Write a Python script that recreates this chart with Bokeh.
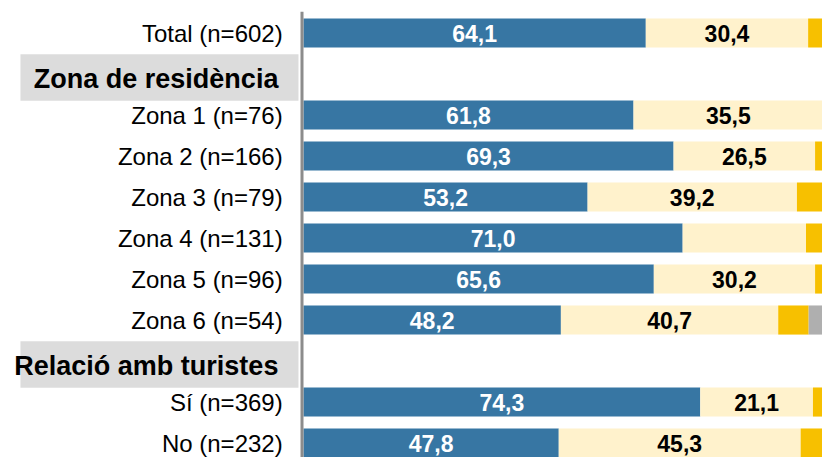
from bokeh.plotting import figure
from bokeh.models import ColumnDataSource, Range1d
from bokeh.core.properties import value
from bokeh.embed import file_html
from bokeh.resources import INLINE

# ---- data ----
categories = ["Total (n=602)", "Zona 1 (n=76)", "Zona 2 (n=166)", "Zona 3 (n=79)",
              "Zona 4 (n=131)", "Zona 5 (n=96)", "Zona 6 (n=54)", "Sí (n=369)", "No (n=232)"]
rows = [0, 2, 3, 4, 5, 6, 7, 9, 10]
headers = ["Zona de residència", "Relació amb turistes"]
header_rows = [1, 8]

s1 = [64.1, 61.8, 69.3, 53.2, 71.0, 65.6, 48.2, 74.3, 47.8]
s2 = [30.4, 35.5, 26.5, 39.2, 23.1, 30.2, 40.7, 21.1, 45.3]
s3 = [5.5, 2.7, 4.2, 7.6, 5.9, 4.2, 5.7, 4.6, 6.9]
s4 = [0.0, 0.0, 0.0, 0.0, 0.0, 0.0, 5.4, 0.0, 0.0]
s2_shown = [True, True, True, True, False, True, True, True, True]

colors = ["#3776A3", "#FFF2CC", "#F7C000", "#AFAFAF"]

FONT = "Liberation Sans"

def fmt(v):
    return f"{v:.1f}".replace(".", ",")

# ---- figure ----
W, H = 822, 457
p = figure(width=W, height=H, output_backend="svg", toolbar_location=None,
           x_range=Range1d(-56.74, 97.19), y_range=Range1d(10.353, -0.793),
           min_border=0, min_border_left=0, min_border_right=0,
           min_border_top=0, min_border_bottom=0)
p.xaxis.visible = False
p.yaxis.visible = False
p.grid.visible = False
p.outline_line_color = None
p.background_fill_color = "white"

# header boxes
hsrc = ColumnDataSource(dict(
    y=header_rows, text=headers,
    top=[r - 0.48 for r in header_rows], bottom=[r + 0.65 for r in header_rows],
    left=[-53.0] * len(header_rows), right=[-0.94] * len(header_rows),
    ty=[r + 0.11 for r in header_rows], tx=[-4.7] * len(header_rows)))
p.quad(left="left", right="right", top="top", bottom="bottom", source=hsrc,
       fill_color="#DCDCDC", line_color=None)
p.text(x="tx", y="ty", text="text", source=hsrc, text_align="right",
       text_baseline="middle", text_font=value(FONT), text_font_style="bold",
       text_font_size="27px", text_color="black")

# stacked bars
l1 = [0.0] * len(s1)
r1 = [a for a in s1]
r2 = [a + b for a, b in zip(s1, s2)]
r3 = [a + b for a, b in zip(r2, s3)]
r4 = [a + b for a, b in zip(r3, s4)]
src = ColumnDataSource(dict(y=rows, cat=categories, l1=l1, r1=r1, r2=r2, r3=r3, r4=r4,
                            c1=[(a + b) / 2 for a, b in zip(l1, r1)],
                            c2=[(a + b) / 2 for a, b in zip(r1, r2)],
                            t1=[fmt(v) for v in s1],
                            t2=[fmt(v) if s else "" for v, s in zip(s2, s2_shown)],
                            lx=[-3.9] * len(rows)))
bh = 0.71
p.hbar(y="y", left="l1", right="r1", height=bh, source=src, fill_color=colors[0], line_color=None)
p.hbar(y="y", left="r1", right="r2", height=bh, source=src, fill_color=colors[1], line_color=None)
p.hbar(y="y", left="r2", right="r3", height=bh, source=src, fill_color=colors[2], line_color=None)
p.hbar(y="y", left="r3", right="r4", height=bh, source=src, fill_color=colors[3], line_color=None)

p.text(x="c1", y="y", text="t1", source=src, text_align="center", text_baseline="middle",
       text_font=value(FONT), text_font_style="bold", text_font_size="23px", text_color="white")
p.text(x="c2", y="y", text="t2", source=src, text_align="center", text_baseline="middle",
       text_font=value(FONT), text_font_style="bold", text_font_size="23px", text_color="black")

# category labels
p.text(x="lx", y="y", text="cat", source=src, text_align="right", text_baseline="middle",
       text_font=value(FONT), text_font_size="24px", text_color="black")

# vertical axis line
p.segment(x0=[-0.28], y0=[-0.52], x1=[-0.28], y1=[10.6], line_color="#8C8C8C", line_width=3)

open("out.html", "w").write(file_html(p, INLINE))
